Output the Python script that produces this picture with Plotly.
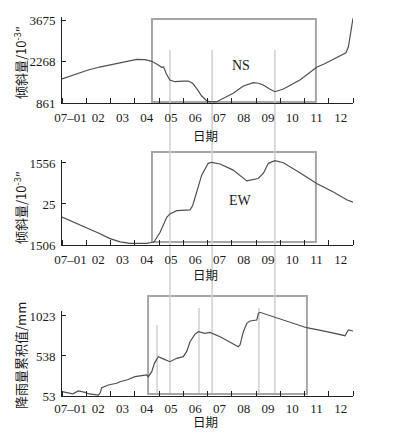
import plotly.graph_objects as go

# ---------------- data (x in months since 2007-01-01) ----------------
ns_month = [0.00, 0.55, 1.08, 1.55, 2.05, 2.55, 3.08, 3.42, 3.70, 3.97, 4.11, 4.19, 4.30, 4.45,
            4.66, 5.00, 5.21, 5.35, 5.41, 5.60, 5.76, 5.97, 6.10, 6.38, 6.70, 7.06, 7.48, 7.70,
            7.89, 8.10, 8.30, 8.58, 8.78, 9.13, 9.50, 9.81, 10.15, 10.50, 10.85, 11.19, 11.50,
            11.71, 11.81, 12.00]
ns_value = [1675, 1830, 1980, 2080, 2173, 2265, 2342, 2329, 2275, 2149, 2071, 2085, 1850, 1641,
            1583, 1600, 1607, 1549, 1505, 1300, 1098, 939, 900, 905, 1040, 1190, 1437, 1510,
            1549, 1530, 1471, 1325, 1244, 1336, 1490, 1641, 1850, 2071, 2200, 2342, 2460,
            2566, 2769, 3730]

ew_month = [0.00, 0.50, 1.02, 1.50, 1.98, 2.40, 2.80, 3.49, 3.79, 4.04, 4.32, 4.45, 4.73, 5.28,
            5.39, 5.55, 5.76, 6.03, 6.17, 6.52, 7.06, 7.62, 8.09, 8.30, 8.51, 8.78, 9.13, 9.81,
            10.50, 11.19, 11.74, 12.00]
ew_value = [-460, -660, -852, -1060, -1268, -1390, -1442, -1442, -1393, -1041, -474, -346, -221,
            -194, -32, 471, 1102, 1544, 1582, 1518, 1291, 887, 977, 1166, 1544, 1643, 1567, 1189,
            788, 471, 184, 93]

rain_month = [0.00, 0.26, 0.45, 0.67, 0.95, 1.08, 1.50, 1.57, 1.64, 1.91, 2.26, 2.39, 2.70, 3.01,
              3.30, 3.49, 3.56, 3.70, 3.81, 3.90, 3.97, 4.20, 4.45, 4.73, 5.00, 5.14, 5.28, 5.48,
              5.62, 5.90, 6.10, 6.52, 6.93, 7.27, 7.34, 7.48, 7.62, 7.75, 8.03, 8.10, 8.16, 8.85,
              9.54, 10.09, 10.92, 11.67, 11.81, 12.00]
rain_value = [105, 93, 80, 114, 98, 81, 65, 86, 154, 186, 207, 226, 250, 287,
              300, 308, 287, 348, 449, 490, 530, 500, 469, 510, 530, 590, 711, 800,
              833, 813, 825, 772, 704, 651, 671, 833, 934, 962, 974, 1056, 1068, 1002,
              934, 881, 833, 784, 853, 841]

month_labels = ["07–01", "02", "03", "04", "05", "06", "07", "08", "09", "10", "11", "12"]
label_pos = [0.35] + [i + 0.5 for i in range(1, 12)]

ns_ticks = [861, 2268, 3675]
ew_ticks = [-1506, 25, 1556]
ew_ticktext = ["1506", "25", "1556"]
rain_ticks = [53, 538, 1023]

# highlighted periods (months) and marker lines
box_spans = [(3.71, 10.47), (3.71, 10.47), (3.55, 10.10)]
long_lines = [4.45, 6.19, 8.78]
short_lines = [3.92, 5.65, 8.12]

# ---------------- layout geometry (page pixels; page has an 8px body margin) ----------------
OFF = 8
W, H = 385, 428
X0, X1 = 62, 353


def py(p):
    return 1 - (p - OFF) / H


def pxx(p):
    return (p - OFF) / W


def dom(v_lo, p_lo, v_hi, p_hi, rmax):
    s = (p_lo - p_hi) / (v_hi - v_lo)
    top = p_hi - (rmax - v_hi) * s
    return [py(p_lo), py(top)]


panels = [
    dict(ticks=ns_ticks, text=[str(t) for t in ns_ticks], rng=[861, 3760],
         dom=dom(861, 103, 3675, 20, 3760), xstand=2),
    dict(ticks=ew_ticks, text=ew_ticktext, rng=[-1506, 1680],
         dom=dom(-1506, 245, 1556, 163, 1680), xstand=2),
    dict(ticks=rain_ticks, text=[str(t) for t in rain_ticks], rng=[53, 1080],
         dom=dom(53, 396, 1023, 316, 1080), xstand=0),
]

fig = go.Figure()
series = [(ns_month, ns_value), (ew_month, ew_value), (rain_month, rain_value)]
for i, (xs, ys) in enumerate(series):
    sfx = "" if i == 0 else str(i + 1)
    fig.add_trace(go.Scatter(x=xs, y=ys, mode="lines", xaxis="x" + sfx, yaxis="y" + sfx,
                             line=dict(color="#4f4f4f", width=1.2), showlegend=False,
                             hoverinfo="skip"))

tickfont = dict(family="Liberation Serif", size=13, color="#1a1a1a")
layout = dict(width=W, height=H, margin=dict(l=0, r=0, t=0, b=0, autoexpand=False),
              paper_bgcolor="white", plot_bgcolor="rgba(0,0,0,0)", showlegend=False)
for i, p in enumerate(panels):
    sfx = "" if i == 0 else str(i + 1)
    layout["xaxis" + sfx] = dict(
        domain=[pxx(X0), pxx(X1)], range=[0, 12], anchor="y" + sfx, automargin=False,
        tickmode="array", tickvals=label_pos, ticktext=month_labels, ticks="", tickangle=0,
        showline=True, linecolor="#222", linewidth=1, showgrid=False, zeroline=False,
        tickfont=tickfont, ticklabelstandoff=p["xstand"],
        minor=dict(tick0=0, dtick=1, ticks="inside", ticklen=5, tickcolor="#222",
                   tickwidth=1, showgrid=False))
    layout["yaxis" + sfx] = dict(
        domain=p["dom"], range=p["rng"], anchor="x" + sfx, automargin=False,
        tickmode="array", tickvals=p["ticks"], ticktext=p["text"],
        ticks="inside", ticklen=4, tickcolor="#222",
        showline=True, linecolor="#222", linewidth=1, showgrid=False, zeroline=False,
        tickfont=tickfont, ticklabelstandoff=3)
fig.update_layout(**layout)

# boxes and lines
box_y = [(19, 102), (152, 242), (296, 394)]
shapes = []
for (xa, xb), (ya, yb) in zip(box_spans, box_y):
    shapes.append(dict(type="rect", xref="x", yref="paper", x0=xa, x1=xb, y0=py(yb), y1=py(ya),
                       line=dict(color="#a6a6a6", width=2), layer="below"))
for xv in long_lines:
    shapes.append(dict(type="line", xref="x", yref="paper", x0=xv, x1=xv, y0=py(393), y1=py(50),
                       line=dict(color="#cfcfcf", width=1.5), layer="below"))
for xv, top in zip(short_lines, [325, 308, 308]):
    shapes.append(dict(type="line", xref="x", yref="paper", x0=xv, x1=xv, y0=py(393), y1=py(top),
                       line=dict(color="#cfcfcf", width=1.5), layer="below"))
fig.update_layout(shapes=shapes)

cjk = dict(family="Noto Sans CJK SC", size=13, color="#1a1a1a")
ann = []
ann.append(dict(text="NS", x=7.37, y=2125, xref="x", yref="y", showarrow=False,
                xanchor="center", yanchor="middle",
                font=dict(family="Liberation Serif", size=14, color="#1a1a1a")))
ann.append(dict(text="EW", x=7.37, y=157, xref="x2", yref="y2", showarrow=False,
                xanchor="center", yanchor="middle",
                font=dict(family="Liberation Serif", size=14, color="#1a1a1a")))
for yc in [135, 274, 421]:
    ann.append(dict(text="日期", x=pxx(206), y=py(yc), xref="paper", yref="paper",
                    xanchor="center", yanchor="middle", showarrow=False,
                    font=dict(family="Noto Sans CJK SC", size=12.5, color="#1a1a1a")))
ytitles = ["倾斜量/10<sup>-3</sup>″", "倾斜量/10<sup>-3</sup>″", "降雨量累积值/mm"]
for t, yc in zip(ytitles, [63, 208, 356]):
    ann.append(dict(text=t, x=pxx(20), y=py(yc), xref="paper", yref="paper", textangle=-90,
                    xanchor="center", yanchor="middle", showarrow=False, font=cjk))
fig.update_layout(annotations=ann)

fig.write_html("out.html")
